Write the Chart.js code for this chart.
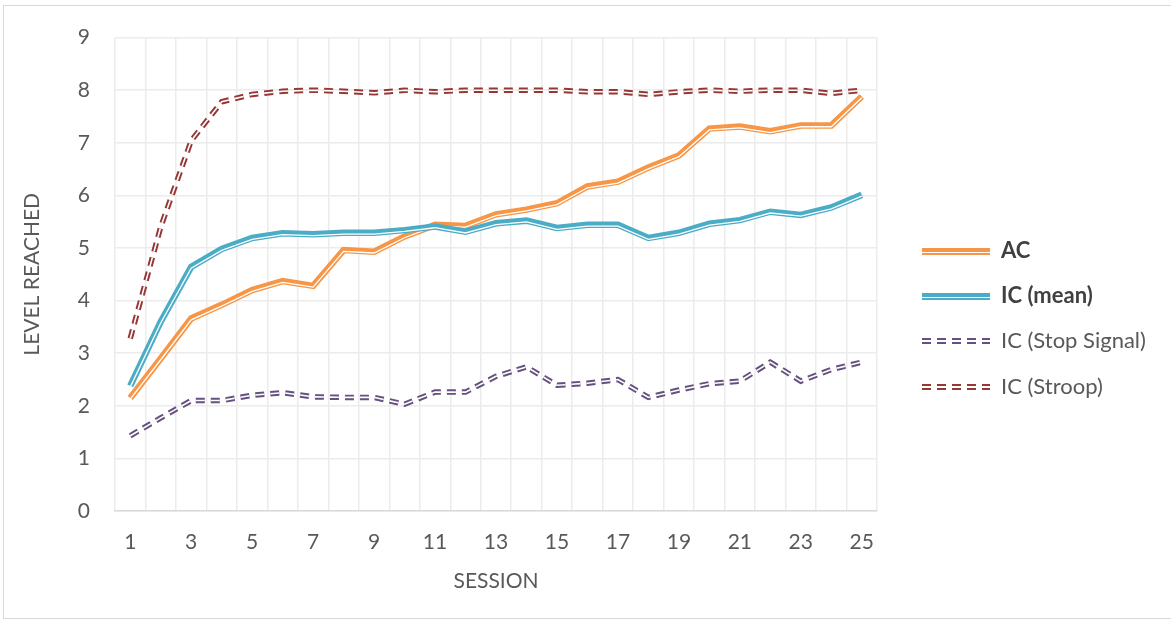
<!DOCTYPE html>
<html>
<head>
<meta charset="utf-8">
<script src="https://cdn.jsdelivr.net/npm/chart.js@4.4.1/dist/chart.umd.min.js"></script>
<style>
  html, body { margin: 0; padding: 0; background: #fff; }
  body { width: 1171px; height: 624px; position: relative; overflow: hidden; font-family: Lato, "Liberation Sans", sans-serif; }
  #frame { position: absolute; left: 3px; top: 5px; width: 1180px; height: 614px; border: 1.5px solid #d9d9d9; box-sizing: border-box; }
  #wrap { position: absolute; left: 0; top: 0; width: 1171px; height: 624px; }
  #legend { position: absolute; left: 922px; top: 0; }
  .item { position: absolute; left: 0; width: 260px; height: 30px; }
  .sample { position: absolute; left: 0; width: 68px; height: 8px; top: 12px; }
  .label { position: absolute; left: 79px; top: 0px; font-size: 22px; color: #595959; white-space: nowrap; }
  .bold { font-weight: bold; color: #404040; }
</style>
</head>
<body>
<div id="frame"></div>
<div id="wrap"><canvas id="c" width="1171" height="624"></canvas></div>
<div id="legend"></div>
<script>
const sessions = ['1','2','3','4','5','6','7','8','9','10','11','12','13','14','15','16','17','18','19','20','21','22','23','24','25'];
const acValues = [2.15, 2.9, 3.66, 3.92, 4.2, 4.37, 4.28, 4.96, 4.93, 5.22, 5.44, 5.42, 5.64, 5.73, 5.85, 6.17, 6.26, 6.53, 6.76, 7.27, 7.31, 7.22, 7.33, 7.33, 7.88];
const icMeanValues = [2.38, 3.6, 4.64, 4.98, 5.19, 5.28, 5.26, 5.29, 5.29, 5.34, 5.41, 5.31, 5.47, 5.52, 5.38, 5.44, 5.44, 5.19, 5.29, 5.46, 5.53, 5.69, 5.63, 5.77, 6.01];
const icStopValues = [1.43, 1.77, 2.1, 2.1, 2.2, 2.25, 2.17, 2.16, 2.16, 2.03, 2.26, 2.26, 2.56, 2.74, 2.39, 2.43, 2.5, 2.16, 2.3, 2.42, 2.47, 2.83, 2.47, 2.69, 2.83];
const icStroopValues = [3.28, 5.4, 7.04, 7.78, 7.92, 7.98, 8.0, 7.98, 7.95, 8.0, 7.97, 8.0, 8.0, 8.0, 8.0, 7.97, 7.97, 7.92, 7.97, 8.0, 7.98, 8.0, 8.0, 7.94, 8.0];
const yTicks = [0,1,2,3,4,5,6,7,8,9];

const ORANGE = '#F79646', TEAL = '#4BACC6', PURPLE = '#65507f', RED = '#953735';
const DASH = [9, 6];

function solidPair(label, data, color, order) {
  return [
    { label: label, data: data, borderColor: color, borderWidth: 6.5, pointRadius: 0, fill: false, tension: 0, order: order + 1, borderJoinStyle: 'miter' },
    { label: label + '_gap', data: data, borderColor: '#ffffff', borderWidth: 1.3, pointRadius: 0, fill: false, tension: 0, order: order, offsetY: 1.3 }
  ];
}
function dashPair(label, data, color, order) {
  return [
    { label: label, data: data, borderColor: color, borderWidth: 5.5, borderDash: DASH, borderCapStyle: 'butt', pointRadius: 0, fill: false, tension: 0, order: order + 1 },
    { label: label + '_gap', data: data, borderColor: '#ffffff', borderWidth: 1.6, borderDash: DASH, borderCapStyle: 'butt', pointRadius: 0, fill: false, tension: 0, order: order }
  ];
}

const offsetPlugin = {
  id: 'offsetPlugin',
  beforeDatasetDraw(chart, args) {
    const ds = chart.data.datasets[args.index];
    chart.ctx.save();
    if (ds.offsetY) chart.ctx.translate(0, ds.offsetY);
  },
  afterDatasetDraw(chart) { chart.ctx.restore(); }
};

const tickFont = { family: 'Lato, "Liberation Sans", sans-serif', size: 21 };
const titleFont = { family: 'Lato, "Liberation Sans", sans-serif', size: 21 };

new Chart(document.getElementById('c'), {
  type: 'line',
  data: {
    labels: sessions,
    datasets: [
      ...dashPair('IC (Stroop)', icStroopValues, RED, 0),
      ...dashPair('IC (Stop Signal)', icStopValues, PURPLE, 2),
      ...solidPair('IC (mean)', icMeanValues, TEAL, 4),
      ...solidPair('AC', acValues, ORANGE, 6)
    ]
  },
  options: {
    responsive: false,
    animation: false,
    events: [],
    layout: { padding: { left: 20, right: 294, top: 36, bottom: 30 } },
    plugins: { legend: { display: false }, tooltip: { enabled: false } },
    scales: {
      x: {
        type: 'category',
        offset: true,
        grid: { offset: true, color: '#ececec', lineWidth: 1.5, drawTicks: false },
        border: { display: true, color: '#d9d9d9', width: 1.5 },
        ticks: {
          color: '#595959', font: tickFont, padding: 19, autoSkip: false, maxRotation: 0,
          callback: function(v, i) { return (i % 2 === 0) ? sessions[i] : ''; }
        },
        title: { display: true, text: 'SESSION', color: '#595959', font: titleFont, padding: { top: 0, bottom: 0 } },
        afterFit(scale) { scale.height = 83; }
      },
      y: {
        min: yTicks[0], max: yTicks[yTicks.length - 1],
        afterBuildTicks(scale) { scale.ticks = yTicks.map(v => ({ value: v })); },
        grid: { color: '#ececec', lineWidth: 1.5, drawTicks: false },
        border: { display: false },
        ticks: { color: '#595959', font: tickFont, padding: 25 },
        title: { display: true, text: 'LEVEL REACHED', color: '#595959', font: titleFont, padding: { top: 0, bottom: 0 } },
        afterFit(scale) { scale.width = 95; }
      }
    }
  },
  plugins: [offsetPlugin]
});

// HTML legend
const legendItems = [
  { text: 'AC', color: ORANGE, kind: 'solid', bold: true, y: 236 },
  { text: 'IC (mean)', color: TEAL, kind: 'solid', bold: true, y: 281 },
  { text: 'IC (Stop Signal)', color: PURPLE, kind: 'dash', bold: false, y: 326 },
  { text: 'IC (Stroop)', color: RED, kind: 'dash', bold: false, y: 372 }
];
const legend = document.getElementById('legend');
legendItems.forEach(it => {
  const d = document.createElement('div');
  d.className = 'item';
  d.style.top = it.y + 'px';
  const s = document.createElement('div');
  s.className = 'sample';
  if (it.kind === 'solid') {
    s.style.background = `linear-gradient(to bottom, ${it.color} 0px, ${it.color} 4px, #fff 4px, #fff 5.3px, ${it.color} 5.3px, ${it.color} 6.6px, transparent 6.6px)`;
  } else {
    s.style.background = `linear-gradient(to bottom, transparent 0px, transparent 0.5px, ${it.color} 0.5px, ${it.color} 2.5px, transparent 2.5px, transparent 4px, ${it.color} 4px, ${it.color} 6px, transparent 6px)`;
    s.style.webkitMaskImage = 'repeating-linear-gradient(to right, #000 0px, #000 9px, transparent 9px, transparent 15px)';
    s.style.maskImage = 'repeating-linear-gradient(to right, #000 0px, #000 9px, transparent 9px, transparent 15px)';
  }
  const l = document.createElement('div');
  l.className = 'label' + (it.bold ? ' bold' : '');
  l.textContent = it.text;
  d.appendChild(s); d.appendChild(l);
  legend.appendChild(d);
});
</script>
</body>
</html>
